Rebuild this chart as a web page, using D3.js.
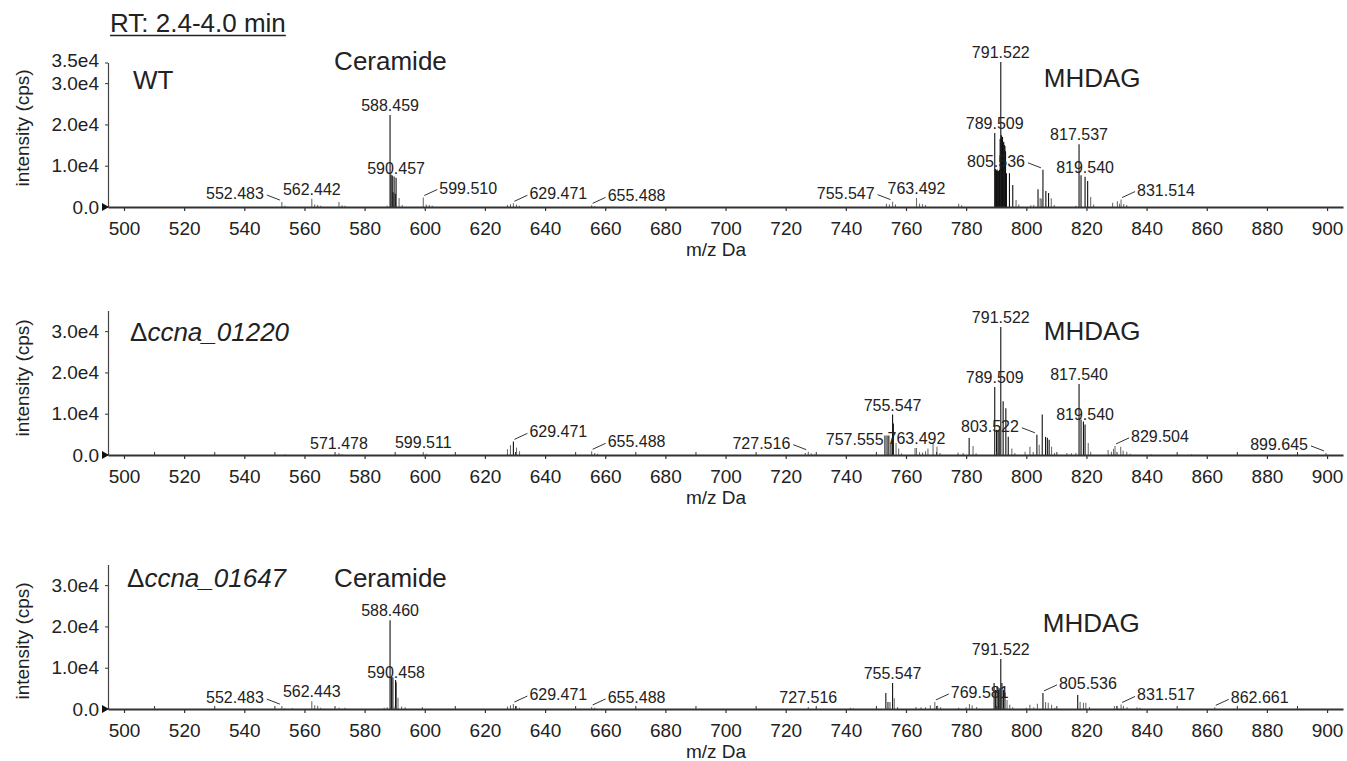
<!DOCTYPE html>
<html>
<head>
<meta charset="utf-8">
<script src="https://cdn.jsdelivr.net/npm/d3@7"></script>
<style>
  body { margin: 0; background: #fff; }
  svg { display: block; }
  text { font-family: "Liberation Sans", Arial, Helvetica, sans-serif; fill: #222; }
</style>
</head>
<body>
<div id="chart"></div>
<script>
// ---- data (m/z, intensity in cps) ----
const title = "RT: 2.4-4.0 min";
const xTicks = d3.range(500, 901, 20);
const yTicksWT = [0, 10000, 20000, 30000, 35000];
const yTicks = [0, 10000, 20000, 30000];

const wtPeaks = [
  [552.483,1200],[553.5,300],[562.442,2000],[563.4,600],[564.4,500],[565.4,300],
  [571.478,1200],[572.5,400],[573.5,300],[587.5,300],[588.459,22300],[588.8,7800],
  [589.2,7600],[589.46,3600],[589.8,7400],[590.2,3200],[590.457,7100],[591.46,2200],
  [592.5,500],[599.51,2300],[600.5,600],[601.5,500],[602.5,300],[627.5,500],[628.5,700],
  [629.471,900],[630.5,600],[631.5,300],[655.488,400],[656.5,200],[753.5,800],[754.5,600],
  [755.547,1300],[756.5,600],[763.492,2200],[764.5,800],[765.5,700],[766.5,500],
  [777.5,800],[778.5,400],[789.509,17900],[789.7,9200],[789.9,9000],[790.1,8800],
  [790.3,9100],[790.5,8700],[790.7,8800],[790.9,8600],[791.1,9000],[791.3,16500],
  [791.522,35100],[791.7,17400],[791.9,16800],[792.1,17000],[792.3,15500],[792.5,15800],
  [792.7,15000],[792.9,14800],[793.1,13500],[793.4,8200],[794.4,8200],[795.5,5300],
  [796.6,1700],[797.5,600],[801.5,400],[802.5,500],[803.9,4300],[804.6,2200],[805.0,2000],
  [805.536,9000],[806.5,3900],[807.4,3400],[808.3,2100],[809.3,500],[816.5,300],
  [817.537,15200],[818.2,7700],[819.54,7300],[820.4,6300],[821.4,2400],[822.4,600],
  [828.7,1000],[830.3,1400],[831.0,800],[831.514,1800],[832.4,700],[833.4,500]
];
const ko1Peaks = [
  [553.5,200],[571.478,500],[572.5,200],[599.511,700],[600.5,300],[627.5,1400],[628.5,2400],
  [629.471,3300],[630.5,1800],[631.5,900],[655.488,900],[656.5,500],[657.5,300],[726.5,500],
  [727.516,800],[728.5,400],[729.5,200],[753.0,4700],[753.7,4700],[754.3,4700],[755.0,3000],
  [755.547,9800],[755.8,7600],[756.7,2900],[757.555,1600],[758.5,400],[763.0,1700],
  [763.492,1700],[764.5,700],[765.5,600],[766.5,900],[767.3,1600],[769.0,2700],[770.3,2000],
  [771.3,500],[777.3,600],[779.0,500],[781.0,4100],[782.3,2200],[783.3,400],[789.509,16500],
  [790.1,6100],[790.6,6100],[791.0,6000],[791.522,31000],[792.3,13000],[793.2,11300],
  [794.0,4400],[795.2,1600],[796.2,500],[799.6,800],[801.2,2000],[802.3,700],[803.522,4900],
  [804.3,2500],[805.3,9800],[806.4,4400],[807.0,4200],[807.6,3700],[808.4,2000],[809.4,500],
  [813.5,500],[815.0,400],[816.5,500],[817.54,17200],[818.2,8600],[819.0,8100],[819.54,7400],
  [820.6,2900],[821.4,800],[827.2,1200],[828.3,800],[829.0,1500],[829.504,2200],[831.4,2000],
  [832.2,1000],[833.4,800],[834.5,300],[841.5,200],[855.0,200],[899.645,500]
];
const ko2Peaks = [
  [552.483,700],[553.5,200],[556.0,200],[562.443,1900],[563.4,900],[564.4,800],[565.4,300],
  [571.5,300],[573.5,300],[586.5,300],[587.5,400],[588.46,21500],[588.9,7700],[589.4,7700],
  [590.3,7000],[590.458,6500],[591.1,2700],[592.3,600],[593.5,400],[599.2,500],[627.5,600],
  [628.5,900],[629.471,1200],[630.5,700],[631.5,300],[655.488,500],[656.5,300],[727.516,500],
  [741.5,300],[742.5,200],[753.3,3900],[753.9,1700],[754.3,1700],[754.7,1700],[755.547,6300],
  [756.1,2600],[757.2,500],[763.3,500],[765.0,400],[766.5,400],[768.1,900],[769.581,1700],
  [770.5,800],[771.5,400],[777.5,300],[780.0,400],[781.1,1200],[782.0,900],[783.5,500],
  [789.3,6300],[789.8,4600],[790.3,5500],[790.8,4600],[791.2,5000],[791.522,12100],
  [791.9,6300],[792.4,4600],[792.9,4000],[793.6,2200],[794.5,1000],[795.5,400],[800.0,300],
  [801.2,1000],[802.5,400],[803.7,1300],[805.536,3900],[806.4,1700],[807.3,1500],[808.4,1000],
  [809.5,300],[817.1,3400],[817.9,1700],[819.0,1500],[819.8,1500],[821.0,500],[829.3,700],
  [830.1,700],[831.517,1100],[832.3,700],[833.5,400],[836.8,400],[837.8,300],[862.661,400]
];

const wtLabels = ["552.483","562.442","588.459","590.457","599.510","629.471","655.488",
  "755.547","763.492","789.509","791.522","805.536","817.537","819.540","831.514"];
const ko1Labels = ["571.478","599.511","629.471","655.488","727.516","757.555","763.492",
  "755.547","789.509","791.522","803.522","817.540","819.540","829.504","899.645"];
const ko2Labels = ["552.483","562.443","588.460","590.458","629.471","655.488","727.516",
  "755.547","769.581","791.522","805.536","831.517","862.661"];

// label placement: a = above peak, l = left with leader, r = right with leader, n = left, no leader
const wtPlace  = ["l","a","a","a","r","r","r","l","a","a","a","l","a","a","r"];
const ko1Place = ["a","a","r","r","l","n","a","a","a","a","l","a","a","r","l"];
const ko2Place = ["l","a","a","a","r","r","a","a","r","a","r","r","r"];

const panels = [
  { name: "WT", delta: false, peaks: wtPeaks, labels: wtLabels, place: wtPlace, ticks: yTicksWT,
    classes: [["Ceramide", 588.6, -137], ["MHDAG", 821.9, -120]], base: 207, nameDy: -118, nameX: 133, yl: -79, minor: false },
  { name: "ccna_01220", delta: true, peaks: ko1Peaks, labels: ko1Labels, place: ko1Place, ticks: yTicks,
    classes: [["MHDAG", 821.9, -115]], base: 455, nameDy: -114, nameX: 130, yl: -77, minor: true },
  { name: "ccna_01647", delta: true, peaks: ko2Peaks, labels: ko2Labels, place: ko2Place, ticks: yTicks,
    classes: [["Ceramide", 588.6, -122], ["MHDAG", 821.6, -77]], base: 709, nameDy: -122, nameX: 127, yl: -68, minor: true }
];

// ---- drawing ----
const W = 1347, H = 761;
const svg = d3.select("#chart").append("svg").attr("width", W).attr("height", H);

const x = d3.scaleLinear().domain([494.68, 905.3]).range([108, 1343]);

const t = svg.append("text").attr("x", 110).attr("y", 32)
  .style("font-size", "26px").text(title);
const tl = t.node().getComputedTextLength();
svg.append("line").attr("x1", 110).attr("x2", 110 + tl).attr("y1", 35.5).attr("y2", 35.5)
  .attr("stroke", "#222").attr("stroke-width", 1.5);

panels.forEach(p => {
  const y = d3.scaleLinear().domain([0, 35000]).range([p.base, p.base - 144.5]);
  const g = svg.append("g");

  // peaks
  g.selectAll("line.pk").data(p.peaks).join("line")
    .attr("class", "pk")
    .attr("x1", d => x(d[0])).attr("x2", d => x(d[0]))
    .attr("y1", y(0)).attr("y2", d => y(d[1]))
    .attr("stroke", d => d[1] >= 3000 ? "#111" : "#6f6f6f")
    .attr("stroke-width", 1.1);

  // x axis
  const xa = g.append("g").attr("transform", `translate(0,${p.base})`)
    .call(d3.axisBottom(x).tickValues(xTicks).tickSize(4).tickSizeOuter(0)
      .tickPadding(11).tickFormat(d3.format("d")));
  xa.select(".domain").attr("stroke", "#333").attr("stroke-width", 1.8);
  xa.selectAll(".tick line").attr("stroke", "#333").attr("stroke-width", 1.2);
  xa.selectAll(".tick text").style("font-size", "19px").attr("fill", "#222");
  if (p.minor) {
    const mn = g.append("g").attr("transform", `translate(0,${p.base})`)
      .call(d3.axisBottom(x).tickValues(d3.range(510, 901, 20)).tickSize(-3).tickFormat(""));
    mn.select(".domain").remove();
    mn.selectAll(".tick line").attr("stroke", "#333");
  }

  // y axis
  const ya = g.append("g").attr("transform", "translate(108,0)")
    .call(d3.axisLeft(y).tickValues(p.ticks).tickSize(3).tickSizeOuter(0).tickPadding(6)
      .tickFormat(d => d === 0 ? "0.0" : d3.format(".1e")(d).replace("e+", "e")));
  ya.select(".domain").attr("stroke", "#444").attr("stroke-width", 1.2);
  ya.selectAll(".tick line").attr("stroke", "#333");
  ya.selectAll(".tick text").style("font-size", "19px").attr("fill", "#222");
  ya.selectAll(".tick text").filter(d => d === 35000).attr("transform", "translate(0,-2)");

  // base marker
  g.append("path")
    .attr("d", `M102,${p.base - 4}L109,${p.base}L102,${p.base + 4}Z`)
    .attr("fill", "#111");

  // axis titles
  g.append("text").attr("transform", `translate(29,${p.base + p.yl}) rotate(-90)`)
    .attr("text-anchor", "middle").style("font-size", "19px").text("intensity (cps)");
  g.append("text").attr("x", 716).attr("y", p.base + 49)
    .attr("text-anchor", "middle").style("font-size", "19px").text("m/z Da");

  // strain name
  const nm = g.append("text").attr("x", p.nameX).attr("y", p.base + p.nameDy).style("font-size", "26px");
  if (p.delta) {
    nm.append("tspan").text("\u0394");
    nm.append("tspan").style("font-style", "italic").text(p.name);
  } else {
    nm.text(p.name);
  }

  // lipid class labels
  p.classes.forEach(c => {
    g.append("text").attr("x", x(c[1])).attr("y", p.base + c[2])
      .attr("text-anchor", "middle").style("font-size", "26px").text(c[0]);
  });

  // peak labels
  p.labels.forEach((lab, i) => {
    const mz = +lab;
    const pk = p.peaks.reduce((a, b) => Math.abs(b[0] - mz) < Math.abs(a[0] - mz) ? b : a);
    const px = x(pk[0]);
    const top = y(pk[1]);
    const mode = p.place[i];
    const txt = g.append("text").style("font-size", "16px").text(lab);
    if (mode === "a") {
      txt.attr("x", px).attr("y", top - 4).attr("text-anchor", "middle");
    } else if (mode === "l") {
      txt.attr("x", px - 18).attr("y", top - 3).attr("text-anchor", "end");
      g.append("line").attr("x1", px - 15).attr("y1", top - 7).attr("x2", px - 2).attr("y2", top - 2)
        .attr("stroke", "#333").attr("stroke-width", 1);
    } else if (mode === "n") {
      txt.attr("x", px - 15).attr("y", top - 3).attr("text-anchor", "end");
    } else {
      txt.attr("x", px + 16).attr("y", top - 4).attr("text-anchor", "start");
      g.append("line").attr("x1", px + 1).attr("y1", top - 2).attr("x2", px + 14).attr("y2", top - 8)
        .attr("stroke", "#333").attr("stroke-width", 1);
    }
  });
});
</script>
</body>
</html>
